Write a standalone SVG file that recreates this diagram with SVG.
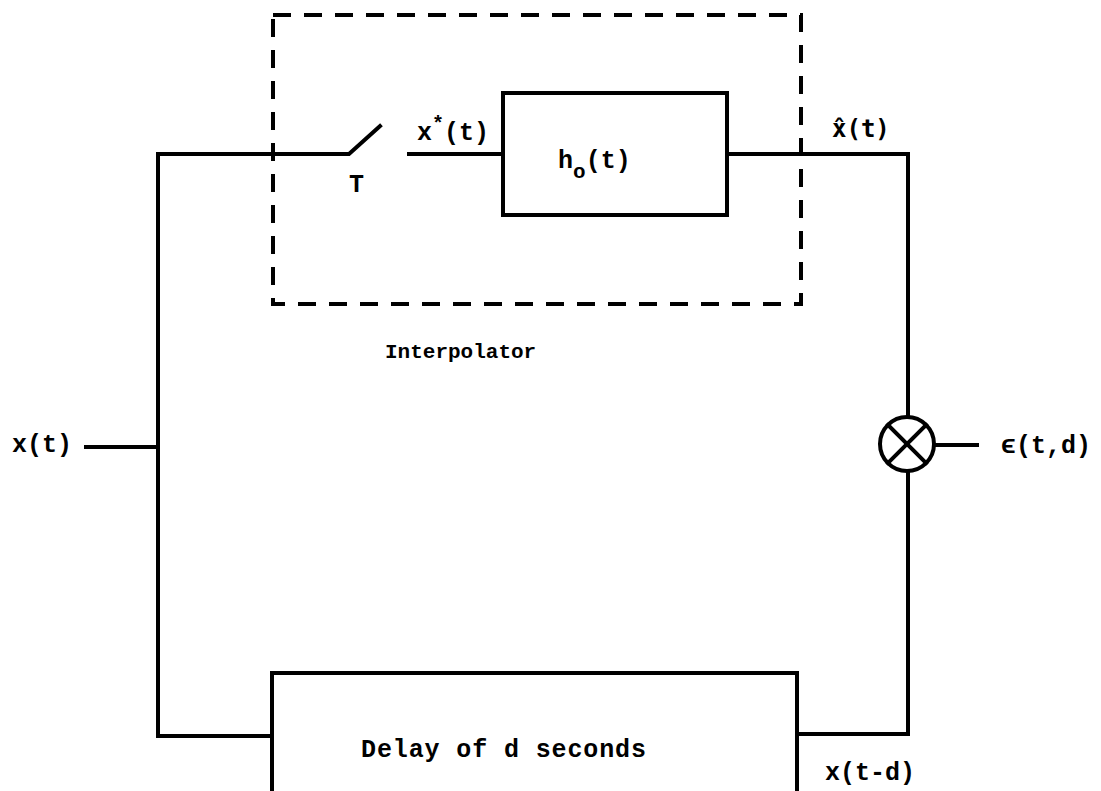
<svg xmlns="http://www.w3.org/2000/svg" width="1101" height="791" viewBox="0 0 1101 791">
<style>
.w{fill:none;stroke:#000;stroke-width:4;stroke-linecap:square}
.b{fill:#fff;stroke:#000;stroke-width:4}
.d{fill:none;stroke:#000;stroke-width:4;stroke-dasharray:18 13}
.t{font-family:"Liberation Mono","DejaVu Sans Mono",monospace;font-weight:bold;font-size:25px;fill:#000}
</style>
<rect width="1101" height="791" fill="#fff"/>
<g id="connectors">
<polyline class="w" points="158,154 158,736 272,736"/>
<line class="w" x1="86" y1="447" x2="158" y2="447"/>
<polyline class="w" points="158,154 349,154 380,126"/>
<line class="w" x1="409" y1="154" x2="503" y2="154"/>
<polyline class="w" points="727,154 908,154 908,416"/>
<polyline class="w" points="797,734 908,734 908,472"/>
<line class="w" x1="935" y1="445" x2="977" y2="445"/>
</g>
<g id="interpolator">
<rect class="d" x="273" y="15" width="528" height="289"/>
<text class="t" x="385" y="358" style="font-size:21px">Interpolator</text>
</g>
<g id="sampler">
<text class="t" x="349" y="192">T</text>
<text class="t" x="417" y="140">x<tspan dy="-10" font-size="20">*</tspan><tspan dy="10">(t)</tspan></text>
</g>
<g id="hold">
<rect class="b" x="503" y="93" width="224" height="122"/>
<text class="t" x="558" y="168">h<tspan dy="10" font-size="21">o</tspan><tspan dy="-10">(t)</tspan></text>
</g>
<g id="xhat">
<text class="t" x="832" y="137" style="font-family:'DejaVu Sans Mono',monospace;font-size:24px">x̂(t)</text>
</g>
<g id="input">
<text class="t" x="12" y="452">x(t)</text>
</g>
<g id="multiplier">
<circle cx="907" cy="444" r="27" fill="#fff" stroke="#000" stroke-width="4"/>
<line class="w" x1="888" y1="425" x2="926" y2="463"/>
<line class="w" x1="926" y1="425" x2="888" y2="463"/>
</g>
<g id="error">
<text class="t" x="1001" y="453">ϵ(t,d)</text>
</g>
<g id="delay">
<rect class="b" x="272" y="673" width="525" height="130"/>
<text class="t" x="361" y="757" textLength="285">Delay of d seconds</text>
</g>
<g id="delayed">
<text class="t" x="825" y="780">x(t-d)</text>
</g>
</svg>
